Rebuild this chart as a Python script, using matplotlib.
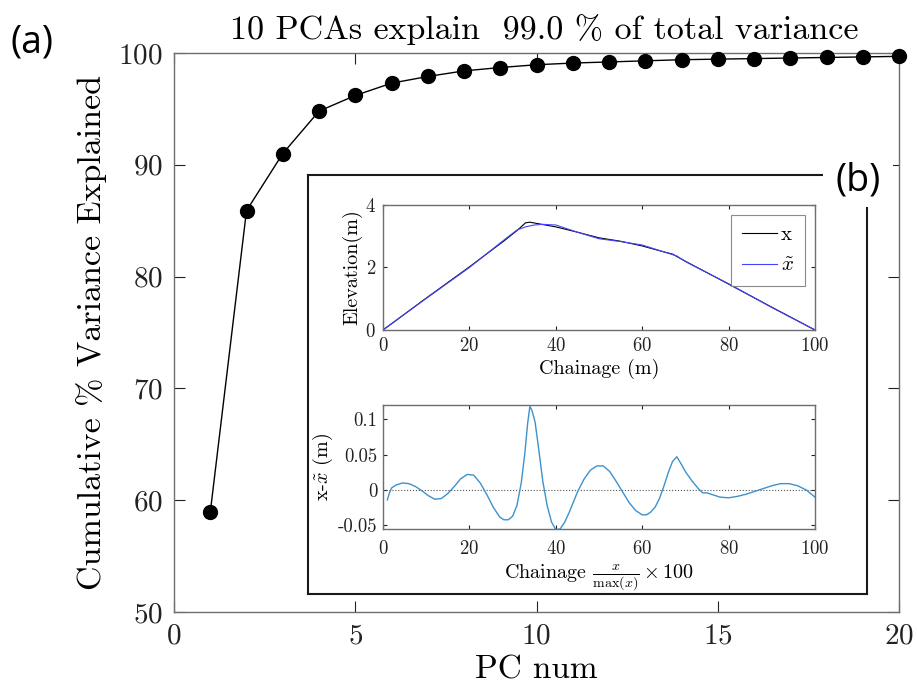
import matplotlib
matplotlib.use('Agg')
import matplotlib.pyplot as plt
from matplotlib.patches import Rectangle

plt.rcParams['font.family'] = ['cmr10']
plt.rcParams['mathtext.fontset'] = 'cm'
plt.rcParams['axes.formatter.use_mathtext'] = True
plt.rcParams['axes.unicode_minus'] = False

# main panel (a): cumulative explained variance
pc_num = list(range(1, 21))
cum_var = [58.9, 85.9, 91.0, 94.8, 96.2, 97.3, 97.9, 98.4, 98.7, 98.95,
           99.1, 99.2, 99.3, 99.4, 99.45, 99.5, 99.55, 99.6, 99.65, 99.7]
n_pcs = 10
var_at_n = 99.0

# inset (b) top: profile and reconstruction
chain_x = [0, 10, 20, 28, 31, 33, 34, 36, 40, 45, 50, 55, 60, 65, 67, 70, 80, 90, 100]
elev_x = [0, 1.02, 2.02, 2.85, 3.18, 3.43, 3.45, 3.4, 3.3, 3.13, 2.95, 2.84,
          2.69, 2.5, 2.43, 2.2, 1.47, 0.73, 0]
chain_xt = [0, 10, 20, 28, 31, 33, 35, 37, 40, 45, 50, 55, 60, 65, 68, 70, 80, 90, 100]
elev_xt = [0, 1.01, 2.0, 2.88, 3.2, 3.3, 3.36, 3.38, 3.36, 3.13, 2.92, 2.83,
           2.72, 2.5, 2.37, 2.19, 1.48, 0.72, 0]

# inset (b) bottom: residual x - x~
res_chain = [1, 1.5, 2, 3, 4.5, 6, 7.5, 9, 10.5, 12, 13.5, 15, 16.5, 18, 19.5,
             21, 22.5, 24, 25.5, 27, 28, 29, 30, 31, 32, 32.8, 33.5, 34, 34.5,
             35.2, 36, 37, 38, 39, 40, 41, 42, 43, 44, 45, 46.5, 48, 49.5, 51,
             52.5, 54, 55.5, 57, 58.5, 60, 61, 62, 63, 64, 65, 66, 67, 68, 69,
             70, 71.5, 73, 74, 75, 76.5, 78, 80, 82, 84, 86, 88, 90, 92, 94,
             96, 98, 100]
res_val = [-0.014, -0.004, 0.003, 0.007, 0.01, 0.009, 0.005, -0.001, -0.008,
           -0.013, -0.012, -0.005, 0.005, 0.016, 0.022, 0.021, 0.01, -0.006,
           -0.024, -0.038, -0.042, -0.042, -0.037, -0.022, 0.01, 0.05, 0.095,
           0.118, 0.112, 0.096, 0.06, 0.012, -0.022, -0.045, -0.056, -0.055,
           -0.046, -0.033, -0.018, -0.003, 0.015, 0.028, 0.034, 0.034, 0.026,
           0.012, -0.003, -0.018, -0.029, -0.035, -0.035, -0.031, -0.024,
           -0.012, 0.005, 0.024, 0.04, 0.047, 0.037, 0.026, 0.013, 0.002,
           -0.004, -0.004, -0.007, -0.01, -0.011, -0.009, -0.006, -0.002,
           0.002, 0.006, 0.009, 0.009, 0.006, 0.0, -0.01]

W, H = 917, 695
spine_col = '#6e6e6e'


def fig_rect(x0, y0, x1, y1):
    # pixel box (top-left origin) -> figure fraction [l, b, w, h]
    return [x0 / W, 1 - y1 / H, (x1 - x0) / W, (y1 - y0) / H]


def style_axes(ax, size):
    for s in ax.spines.values():
        s.set_color(spine_col)
        s.set_linewidth(1.0)
    ax.tick_params(direction='in', top=True, right=True, colors='#222222',
                   labelsize=size, length=5, width=0.8)
    for t in ax.get_xticklines() + ax.get_yticklines():
        t.set_color(spine_col)


fig = plt.figure(figsize=(W / 100, H / 100), dpi=100)

ax = fig.add_axes(fig_rect(174, 53, 899, 612))
ax.plot(pc_num, cum_var, '-o', color='black', linewidth=1.0,
        markersize=10, markerfacecolor='black', clip_on=False, zorder=3)
ax.set_xlim(0, 20)
ax.set_ylim(50, 100)
ax.set_xticks([0, 5, 10, 15, 20])
ax.set_yticks([50, 60, 70, 80, 90, 100])
style_axes(ax, 21)
ax.tick_params(length=8, pad=8)
ax.set_xlabel('PC num', fontsize=24, labelpad=4)
ax.set_ylabel('Cumulative % Variance Explained', fontsize=24.5, labelpad=8)
ax.set_title(f'{n_pcs} PCAs explain  {var_at_n:.1f} % of total variance',
             fontsize=24.5, pad=10, x=0.51)

# inset frame
frame = fig.add_axes(fig_rect(308, 175, 867, 594))
frame.set_xticks([])
frame.set_yticks([])
for s in frame.spines.values():
    s.set_linewidth(1.5)
    s.set_color('#1a1a1a')
frame.set_zorder(4)

ax1 = fig.add_axes(fig_rect(383, 205, 815, 330))
ax1.set_zorder(5)
ax1.plot(chain_x, elev_x, color='black', linewidth=0.8, label='x')
ax1.plot(chain_xt, elev_xt, color='#4444ff', linewidth=0.8, label=r'$\tilde{x}$')
ax1.set_xlim(0, 100)
ax1.set_ylim(0, 4)
ax1.set_xticks([0, 20, 40, 60, 80, 100])
ax1.set_yticks([0, 2, 4])
style_axes(ax1, 13.5)
ax1.tick_params(length=3, pad=5)
ax1.set_xlabel('Chainage (m)', fontsize=14.5, labelpad=3)
ax1.set_ylabel('Elevation(m)', fontsize=14.5, labelpad=2)
leg = ax1.legend(loc='upper right', fontsize=15, frameon=True, fancybox=False,
                 handlelength=1.7, handletextpad=0.2, borderpad=0.5,
                 labelspacing=0.6, borderaxespad=0.5)
leg.get_frame().set_edgecolor(spine_col)
leg.get_frame().set_linewidth(0.8)

ax2 = fig.add_axes(fig_rect(383, 405, 815, 529))
ax2.set_zorder(5)
ax2.axhline(0, color='#555555', linestyle=':', linewidth=0.8)
ax2.plot(res_chain, res_val, color='#3d92cc', linewidth=1.0)
ax2.set_xlim(0, 100)
ax2.set_ylim(-0.055, 0.12)
ax2.set_xticks([0, 20, 40, 60, 80, 100])
ax2.set_yticks([-0.05, 0, 0.05, 0.1])
ax2.set_yticklabels(['-0.05', '0', '0.05', '0.1'])
style_axes(ax2, 13.5)
ax2.tick_params(length=3, pad=4)
ax2.tick_params(axis='x', pad=8)
ax2.set_xlabel(r'Chainage $\frac{x}{\max(x)}\times 100$', fontsize=14.5, labelpad=3)
ax2.set_ylabel(r'x-$\tilde{x}$ (m)', fontsize=14.5, labelpad=2)

# panel labels
fig.add_artist(Rectangle((823 / W, 1 - 207 / H), 70 / W, 70 / H,
                         transform=fig.transFigure, facecolor='white',
                         edgecolor='none', zorder=6))
fig.text(10 / W, 1 - 42 / H, '(a)', fontsize=27, family='Open Sans',
         va='center', ha='left')
fig.text(858 / W, 1 - 180 / H, '(b)', fontsize=27, family='Open Sans',
         va='center', ha='center', zorder=7)

fig.savefig('out.png', dpi=100)
